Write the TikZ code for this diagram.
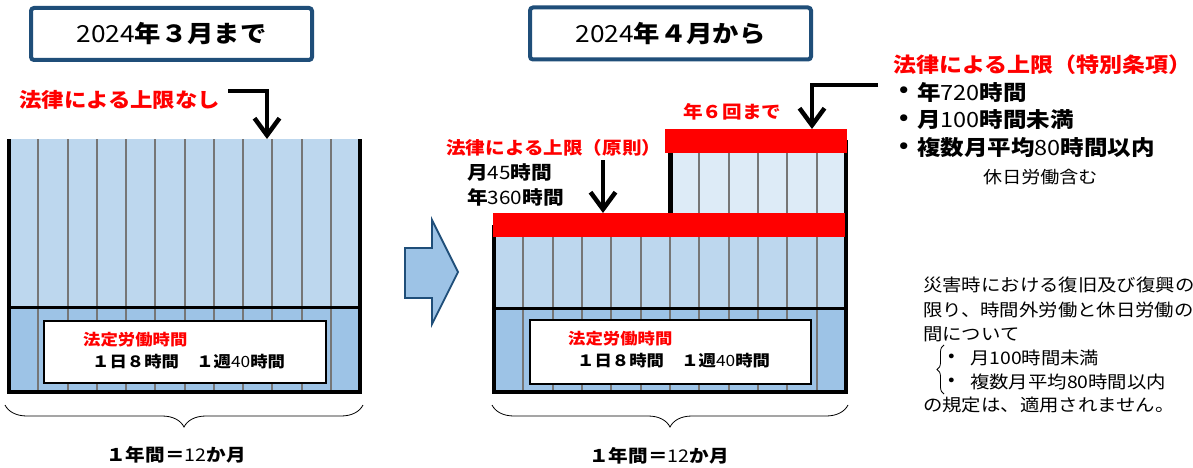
\documentclass[tikz,border=0pt]{standalone}
\usepackage{fontspec}
\setmainfont{Noto Sans CJK JP}[FakeStretch=1.12]
\usetikzlibrary{arrows.meta,decorations.pathreplacing}
\definecolor{lightblue}{HTML}{BDD7EE}
\definecolor{midblue}{HTML}{9DC3E6}
\definecolor{paleblue}{HTML}{DDEBF7}
\definecolor{navy}{HTML}{1F4E79}
\definecolor{lred}{HTML}{FF0000}
\definecolor{gridgray}{HTML}{767676}
\newcommand\nd[1]{{\mdseries #1}}
\newcommand\fs[1]{\fontsize{#1}{#1}\selectfont}
\tikzset{
  wall/.style={line width=4pt, black, line join=miter},
  gridline/.style={line width=2pt, gridgray},
  redbar/.style={fill=lred},
  titlebox/.style={draw=navy, line width=4pt, rounded corners=3pt, fill=white,
    minimum width=281pt, minimum height=52pt, inner sep=0pt, font=\bfseries\fs{23.5}},
  whitebox/.style={draw=black, line width=1.6pt, fill=white, inner sep=0pt},
  callout/.style={line width=4pt, -{Straight Barb[length=17pt,width=25pt,line width=4.5pt]}},
  lbl/.style={anchor=west, inner sep=0pt},
  redlbl/.style={lbl, text=lred, font=\bfseries\fs{#1}},
  blklbl/.style={lbl, font=\bfseries\fs{#1}},
  thinlbl/.style={lbl, font=\mdseries\fs{#1}},
  yearbrace/.style={decorate, decoration={brace, amplitude=22pt}, line width=0.8pt},
}
\begin{document}
\begin{tikzpicture}[x=1pt,y=-1pt]
\clip (0,0) rectangle (1193,468);
\fill[white] (0,0) rectangle (1193,468);

% ---------- titles
\node[titlebox] (titleL) at (171.5,34) {\nd{2024}年３月まで};
\node[titlebox] (titleR) at (670.5,33.5) {\nd{2024}年４月から};

% ---------- left chart
\fill[lightblue] (9,139) rectangle (360,307);
\fill[midblue] (9,307) rectangle (360,392);
\foreach \i in {1,...,11} \draw[gridline] ({9+29.25*\i},139) -- ({9+29.25*\i},392);
\draw[wall] (9,139) -- (9,392) -- (360,392) -- (360,139);
\draw[line width=3pt] (9,307) -- (360,307);
\node[whitebox, minimum width=282pt, minimum height=62pt] (boxL) at (185,352) {};
\node[redlbl=15.5] (boxLa) at (83,340) {法定労働時間};
\node[blklbl=15.5] (boxLb) at (92,362) {１日８時間　１週\nd{40}時間};

\node[redlbl=20] (noLimit) at (19,100) {法律による上限なし};
\coordinate (a1s) at (228,91);
\coordinate (a1e) at (267,139);
\draw[callout] (a1s) -| (a1e);

\draw[yearbrace] (363,405) -- (5,405) coordinate[midway] (braceL);
\node[font=\bfseries\fs{17.5}, inner sep=0pt] (yearL) at (176,455) {１年間＝\nd{12}か月};

% ---------- big arrow
\draw[fill=midblue, draw=navy, line width=1.8pt, line join=miter]
  (405,248) -- (432,248) -- (432,220) -- (458,272) -- (432,324) -- (432,298) -- (405,298) -- cycle;

% ---------- right chart, lower block
\fill[lightblue] (494,237) rectangle (846,308);
\fill[midblue] (494,308) rectangle (846,392);
\foreach \i in {1,...,11} \draw[gridline] ({494+29.33*\i},237) -- ({494+29.33*\i},392);
% upper block
\fill[paleblue] (670,153) rectangle (846,213);
\foreach \i in {1,...,5} \draw[gridline] ({670+29.33*\i},153) -- ({670+29.33*\i},213);
\draw[wall] (494,225) -- (494,392) -- (846,392) -- (846,140);
\draw[line width=5pt] (670,145) -- (670,213);
\draw[line width=3pt] (494,308) -- (846,308);
\fill[redbar] (665,129) rectangle (847,153);
\fill[redbar] (493,213) rectangle (845,237);
\node[whitebox, minimum width=281pt, minimum height=64pt] (boxR) at (670.5,352) {};
\node[redlbl=15.5] (boxRa) at (568,339) {法定労働時間};
\node[blklbl=15.5] (boxRb) at (577,361) {１日８時間　１週\nd{40}時間};

\node[redlbl=17.5] (principle) at (446,148) {法律による上限（原則）};
\node[blklbl=18.5] (m45) at (467,172) {月\nd{45}時間};
\node[blklbl=18.5] (y360) at (467,197) {年\nd{360}時間};
\coordinate (a2s) at (603,160);
\coordinate (a2e) at (603,213);
\draw[callout] (a2s) -- (a2e);

\node[redlbl=17.5] (sixTimes) at (683,112) {年６回まで};
\coordinate (a3s) at (878,85);
\coordinate (a3e) at (812,129);
\draw[callout] (a3s) -| (a3e);

\draw[yearbrace] (848,405) -- (492,405) coordinate[midway] (braceR);
\node[font=\bfseries\fs{17.5}, inner sep=0pt] (yearR) at (659,456) {１年間＝\nd{12}か月};

% ---------- special clause text
\node[redlbl=20.5] (special) at (893,65) {法律による上限（特別条項）};
\node[blklbl=21] (b1) at (899,92) {•};
\node[blklbl=21] (s1) at (917,92) {年\nd{720}時間};
\node[blklbl=21] (b2) at (899,120) {•};
\node[blklbl=21] (s2) at (917,120) {月\nd{100}時間未満};
\node[blklbl=21] (b3) at (899,148) {•};
\node[blklbl=21] (s3) at (917,148) {複数月平均\nd{80}時間以内};
\node[thinlbl=17] (holiday) at (983,177) {休日労働含む};

% ---------- disaster note
\node[thinlbl=17.3] (n1) at (923,285) {災害時における復旧及び復興の};
\node[thinlbl=17.3] (n2) at (923,310) {限り、時間外労働と休日労働の};
\node[thinlbl=17.3] (n3) at (923,334) {間について};
\node[thinlbl=17.3] (n4b) at (948,358) {•};
\node[thinlbl=17.3] (n4) at (970,358) {月100時間未満};
\node[thinlbl=17.3] (n5b) at (948,382) {•};
\node[thinlbl=17.3] (n5) at (970,382) {複数月平均80時間以内};
\node[thinlbl=17.3] (n6) at (923,405) {の規定は、適用されません。};
\draw[decorate, decoration={brace, amplitude=7pt}, line width=0.8pt] (944,394) -- (944,345);
\end{tikzpicture}
\end{document}
